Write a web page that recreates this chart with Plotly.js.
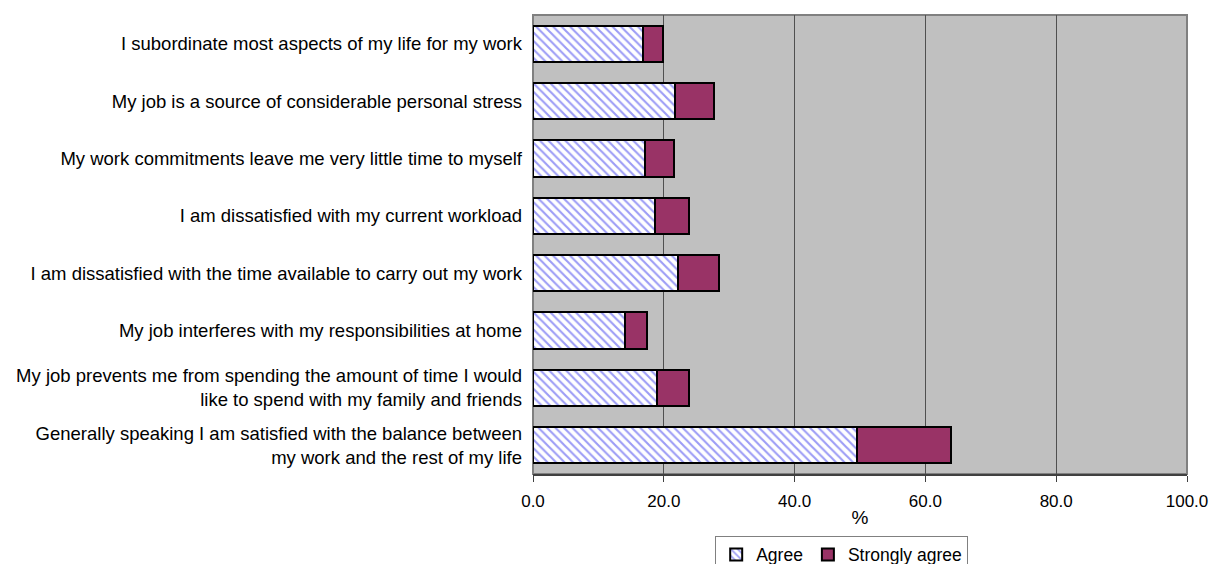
<!DOCTYPE html>
<html>
<head>
<meta charset="utf-8">
<script src="https://cdn.plot.ly/plotly-3.0.1.min.js"></script>
<style>
  html, body { margin: 0; padding: 0; background: #ffffff; }
  #chart { width: 1209px; height: 564px; }
</style>
</head>
<body>
<div id="chart"></div>
<script>
// Statements about work-life balance (top to bottom)
const statements = [
  "I subordinate most aspects of my life for my work",
  "My job is a source of considerable personal stress",
  "My work commitments leave me very little time to myself",
  "I am dissatisfied with my current workload",
  "I am dissatisfied with the time available to carry out my work",
  "My job interferes with my responsibilities at home",
  "My job prevents me from spending the amount of time I would<br>like to spend with my family and friends",
  "Generally speaking I am satisfied with the balance between<br>my work and the rest of my life"
];

// Share of respondents (%)
const agree = [16.8, 21.7, 17.1, 18.6, 22.2, 14.1, 19.0, 49.6];
const stronglyAgree = [3.1, 5.9, 4.4, 5.3, 6.3, 3.4, 4.9, 14.3];

const xTicks = [0, 20, 40, 60, 80, 100];
const xTickText = ["0.0", "20.0", "40.0", "60.0", "80.0", "100.0"];

const seriesNames = ["Agree", "Strongly agree"];

const font = "Liberation Sans, Arial, sans-serif";

const traces = [
  {
    type: "bar",
    orientation: "h",
    name: seriesNames[0],
    y: statements,
    x: agree,
    marker: {
      color: "#ffffff",
      line: { color: "#000000", width: 2 },
      pattern: { shape: "\\", fgcolor: "#9c9cf6", bgcolor: "#ffffff", size: 6, solidity: 0.35 }
    },
    hoverinfo: "skip"
  },
  {
    type: "bar",
    orientation: "h",
    name: seriesNames[1],
    y: statements,
    x: stronglyAgree,
    marker: {
      color: "#993366",
      line: { color: "#000000", width: 2 }
    },
    hoverinfo: "skip"
  }
];

const layout = {
  width: 1209,
  height: 564,
  margin: { l: 533, r: 22, t: 15, b: 90, autoexpand: false },
  paper_bgcolor: "#ffffff",
  plot_bgcolor: "#c0c0c0",
  barmode: "stack",
  bargap: 0.37,
  font: { family: font, color: "#000000", size: 17 },
  showlegend: true,
  legend: {
    orientation: "h",
    x: 0.472,
    xanchor: "center",
    y: -0.134,
    yanchor: "top",
    bordercolor: "#808080",
    borderwidth: 1,
    bgcolor: "#ffffff",
    font: { family: font, size: 17.5, color: "#000000" },
    traceorder: "normal"
  },
  xaxis: {
    range: [0, 100],
    tickvals: xTicks,
    ticktext: xTickText,
    showgrid: true,
    gridcolor: "#505050",
    gridwidth: 1,
    zeroline: false,
    showline: true,
    linecolor: "#404040",
    linewidth: 2,
    ticks: "outside",
    ticklen: 6,
    tickcolor: "#404040",
    tickwidth: 1,
    ticklabelstandoff: 5,
    tickfont: { family: font, size: 17 },
    title: { text: "%", font: { family: font, size: 19 }, standoff: 0 },
    fixedrange: true
  },
  yaxis: {
    autorange: "reversed",
    type: "category",
    showgrid: false,
    zeroline: false,
    showline: false,
    ticks: "",
    ticklabelstandoff: 10,
    tickfont: { family: font, size: 18.5 },
    fixedrange: true
  },
  shapes: [
    {
      type: "rect",
      xref: "paper",
      yref: "paper",
      x0: 0, x1: 1, y0: 0, y1: 1,
      line: { color: "#808080", width: 2 },
      fillcolor: "rgba(0,0,0,0)",
      layer: "below"
    }
  ]
};

Plotly.newPlot("chart", traces, layout, { displayModeBar: false, staticPlot: true });
</script>
</body>
</html>
